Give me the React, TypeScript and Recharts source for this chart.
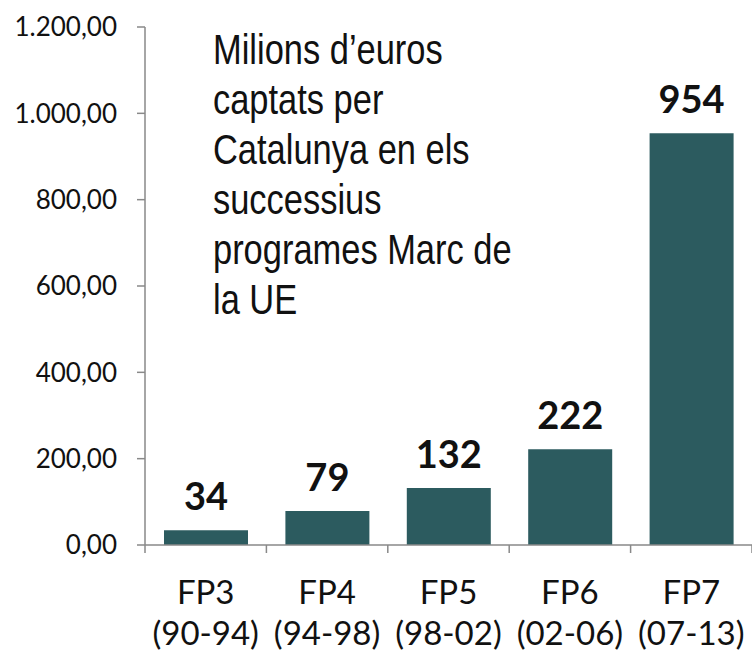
import React from 'react';
import { Bar, BarChart, LabelList, XAxis, YAxis } from 'recharts';

const programs = ['FP3', 'FP4', 'FP5', 'FP6', 'FP7'];
const periods = ['(90-94)', '(94-98)', '(98-02)', '(02-06)', '(07-13)'];
const millions = [34, 79, 132, 222, 954];
const yTicks = [0, 200, 400, 600, 800, 1000, 1200];
const titleLines = [
  'Milions d\u2019euros',
  'captats per',
  'Catalunya en els',
  'successius',
  'programes Marc de',
  'la UE',
];

const data = programs.map((p, i) => ({ program: p, period: periods[i], value: millions[i] }));

const BAR = '#2C5B5F';
const AXIS = '#898989';
const FONT = 'Lato, "Open Sans", sans-serif';

// 1200 -> "1.200,00"
function fmtEs(v: number) {
  const [int, dec] = v.toFixed(2).split('.');
  return int.replace(/\B(?=(\d{3})+(?!\d))/g, '.') + ',' + dec;
}

function CategoryTick(props: any) {
  const { x, y, payload, index, width, visibleTicksCount } = props;
  const band = width / visibleTicksCount;
  const row = data[index];
  return (
    <g>
      <line x1={x - band / 2} x2={x - band / 2} y1={y - 8} y2={y} stroke={AXIS} strokeWidth={1.5} />
      {index === visibleTicksCount - 1 && (
        <line x1={x + band / 2} x2={x + band / 2} y1={y - 8} y2={y} stroke={AXIS} strokeWidth={1.5} />
      )}
      <text x={x} y={y} textAnchor="middle" fontFamily={FONT} fontSize={33} fill="#111">
        <tspan x={x} dy={51}>{payload.value}</tspan>
        <tspan x={x} dy={41}>{row ? row.period : ''}</tspan>
      </text>
    </g>
  );
}

export default function App() {
  return (
    <div style={{ position: 'absolute', left: 0, top: 0, width: 752, height: 655, background: '#fff' }}>
      <BarChart
        width={752}
        height={655}
        data={data}
        margin={{ top: 27, right: 0, left: 0, bottom: 0 }}
        barSize={84}
      >
        <XAxis
          dataKey="program"
          height={110}
          axisLine={{ stroke: AXIS, strokeWidth: 1.5 }}
          tickLine={false}
          tick={<CategoryTick />}
          interval={0}
        />
        <YAxis
          width={145}
          domain={[0, 1200]}
          ticks={yTicks}
          tickFormatter={fmtEs}
          axisLine={{ stroke: AXIS, strokeWidth: 1.5 }}
          tickLine={{ stroke: AXIS, strokeWidth: 1.5 }}
          tickSize={8}
          tickMargin={20}
          tick={{ fontFamily: FONT, fontSize: 26, fill: '#111' }}
        />
        <Bar dataKey="value" fill={BAR} isAnimationActive={false}>
          <LabelList
            dataKey="value"
            position="top"
            offset={20}
            style={{ fontFamily: FONT, fontSize: 38, fontWeight: 700, fill: '#111' }}
          />
        </Bar>
      </BarChart>
      <div
        style={{
          position: 'absolute',
          left: 213,
          top: 25,
          fontFamily: '"Liberation Sans", Arial, sans-serif',
          fontSize: 42,
          lineHeight: '50px',
          color: '#111',
          whiteSpace: 'nowrap',
          transform: 'scaleX(0.82)',
          transformOrigin: '0 0',
        }}
      >
        {titleLines.map((l) => (
          <div key={l}>{l}</div>
        ))}
      </div>
    </div>
  );
}
